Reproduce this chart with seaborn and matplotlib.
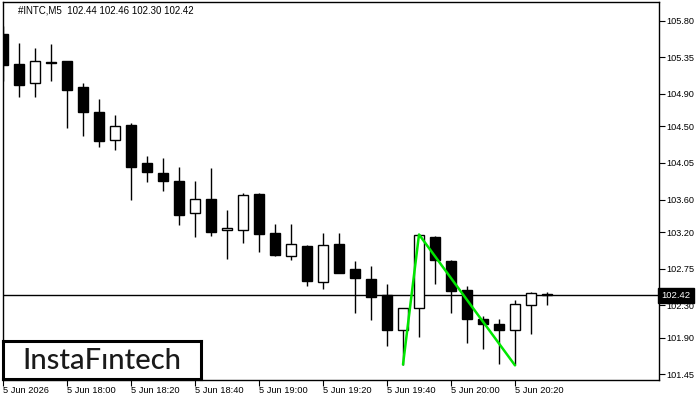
import matplotlib
matplotlib.use("Agg")
import matplotlib.pyplot as plt
import matplotlib.transforms as mtransforms
import numpy as np
import pandas as pd
import seaborn as sns

# ---- data -------------------------------------------------------------
times = ["17:40", "17:45", "17:50", "17:55", "18:00", "18:05", "18:10", "18:15",
         "18:20", "18:25", "18:30", "18:35", "18:40", "18:45", "18:50", "18:55",
         "19:00", "19:05", "19:10", "19:15", "19:20", "19:25", "19:30", "19:35",
         "19:40", "19:45", "19:50", "19:55", "20:00", "20:05", "20:10", "20:15",
         "20:20", "20:25", "20:30"]
opens = [105.64, 105.27, 105.03, 105.29, 105.30, 104.98, 104.68, 104.33,
         104.52, 104.05, 103.93, 103.83, 103.43, 103.61, 103.22, 103.23,
         103.67, 103.19, 102.91, 103.03, 102.59, 103.05, 102.75, 102.62,
         102.42, 101.99, 102.26, 103.14, 102.84, 102.49, 102.13, 102.07,
         101.99, 102.30, 102.44]
highs = [105.73, 105.53, 105.46, 105.51, 105.31, 105.03, 104.84, 104.64,
         104.54, 104.14, 104.11, 104.00, 103.83, 103.99, 103.47, 103.68,
         103.68, 103.30, 103.30, 103.04, 103.19, 103.19, 102.84, 102.78,
         102.56, 102.27, 103.17, 103.15, 102.86, 102.54, 102.17, 102.13,
         102.36, 102.46, 102.46]
lows = [105.06, 104.86, 104.86, 105.06, 104.48, 104.38, 104.24, 104.21,
        103.60, 103.81, 103.71, 103.29, 103.14, 103.15, 102.87, 103.06,
        102.96, 102.91, 102.86, 102.54, 102.50, 102.69, 102.20, 102.12,
        101.80, 101.57, 101.91, 102.56, 102.21, 101.83, 101.76, 101.58,
        101.56, 101.95, 102.30]
closes = [105.25, 105.01, 105.30, 105.28, 104.95, 104.68, 104.32, 104.50,
          104.00, 103.94, 103.83, 103.41, 103.61, 103.20, 103.25, 103.66,
          103.17, 102.92, 103.05, 102.60, 103.04, 102.70, 102.64, 102.40,
          102.00, 102.27, 103.16, 102.85, 102.48, 102.13, 102.07, 101.99,
          102.32, 102.45, 102.42]

pattern_idx = [25, 26, 32]                     # double-bottom zigzag points
pattern_price = [101.57, 103.17, 101.56]

current_price = 102.42
title_text = "#INTC,M5  102.44 102.46 102.30 102.42"

ytick_values = [105.80, 105.35, 104.90, 104.50, 104.05, 103.60,
                103.20, 102.75, 102.30, 101.90, 101.45]
xtick_idx = [0, 4, 8, 12, 16, 20, 24, 28, 32]
xtick_labels = ["5 Jun 2026", "5 Jun 18:00", "5 Jun 18:20", "5 Jun 18:40",
                "5 Jun 19:00", "5 Jun 19:20", "5 Jun 19:40", "5 Jun 20:00",
                "5 Jun 20:20"]

df = pd.DataFrame({"t": times, "open": opens, "high": highs,
                   "low": lows, "close": closes})
df["idx"] = np.arange(len(df))

# ---- figure -----------------------------------------------------------
sns.set_theme(style="white")
plt.rcParams["font.family"] = ["Liberation Sans", "DejaVu Sans"]

fig = plt.figure(figsize=(7, 4), dpi=100)
ax = fig.add_axes([2.7 / 700, 1 - 379.5 / 400, (659 - 2.7) / 700, (379.5 - 2.3) / 400])
ax.set_facecolor("white")

# wicks
ax.vlines(df["idx"], df["low"], df["high"], color="black", lw=1.0, zorder=2)

# bodies
bw = 0.67
up = df["close"] >= df["open"]
body_bottom = np.minimum(df["open"], df["close"])
body_h = np.abs(df["close"] - df["open"])
body_h = np.maximum(body_h, 0.012)
ax.bar(df["idx"][up], body_h[up], bottom=body_bottom[up], width=bw,
       facecolor="white", edgecolor="black", linewidth=1.0, zorder=3)
ax.bar(df["idx"][~up], body_h[~up], bottom=body_bottom[~up], width=bw,
       facecolor="black", edgecolor="black", linewidth=1.0, zorder=3)

# current price line
ax.axhline(current_price, color="black", lw=1.0, zorder=1)

# pattern line
pat = pd.DataFrame({"x": pattern_idx, "y": pattern_price})
sns.lineplot(data=pat, x="x", y="y", ax=ax, color="#00e600", lw=1.8,
             sort=False, zorder=5)

# axes limits
ax.set_xlim(-0.02, 41.0)
ax.set_ylim(101.386, 106.026)
ax.set_xlabel("")
ax.set_ylabel("")

# spines
for s in ax.spines.values():
    s.set_color("black")
    s.set_linewidth(1.0)
    s.set_visible(True)

# ticks
ax.yaxis.tick_right()
ax.set_yticks(ytick_values)
ax.set_yticklabels([f"{v:.2f}" for v in ytick_values], fontsize=6.6, color="black")
ax.set_xticks(xtick_idx)
ax.set_xticklabels(xtick_labels, fontsize=6.7, color="black", ha="left")
ax.tick_params(axis="y", which="both", direction="out", length=4, width=0.8,
               color="black", pad=1.5, right=True, left=False)
ax.tick_params(axis="x", which="both", direction="out", length=4, width=0.8,
               color="black", pad=1, bottom=True)

# title
ax.text(15.5 / 656, 0.978, title_text, transform=ax.transAxes,
        fontsize=7, color="black", ha="left", va="center")

# price label on right axis
trans = mtransforms.blended_transform_factory(ax.transAxes, ax.transData)
ax.text(1.004, current_price, f"{current_price:.2f}", transform=trans,
        fontsize=6.8, color="white", ha="left", va="center",
        bbox=dict(boxstyle="square,pad=0.35", facecolor="black", edgecolor="black"),
        clip_on=False, zorder=10)

# logo box
logo_ax = fig.add_axes([3 / 700, 1 - 379 / 400, (201 - 3) / 700, (379 - 341) / 400])
logo_ax.set_xticks([])
logo_ax.set_yticks([])
logo_ax.set_facecolor("white")
for s in logo_ax.spines.values():
    s.set_color("black")
    s.set_linewidth(2.2)
logo_ax.text(0.5, 0.47, "InstaF\u0131ntech", ha="center", va="center",
             fontsize=21, fontweight="medium", color="#1a1a1a",
             family=["Lato", "DejaVu Sans"], transform=logo_ax.transAxes)

fig.savefig("out.png", dpi=100)
